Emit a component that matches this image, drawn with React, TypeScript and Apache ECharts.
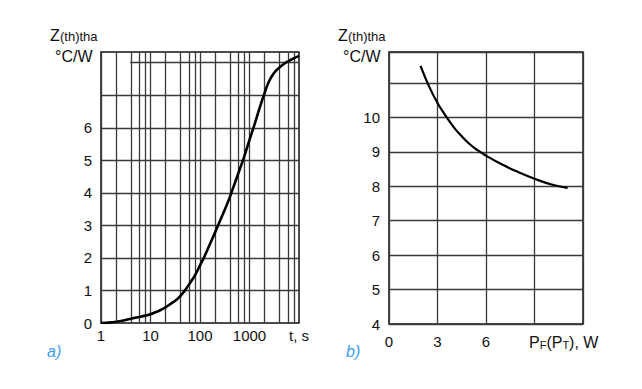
import React, { useEffect, useRef } from "react";
import * as echarts from "echarts";

// a) transient thermal impedance vs. time
const timeS = [
  1, 1.6, 2.5, 4, 6.3, 10, 12.6, 16, 20, 25, 32, 40, 50, 63, 80, 100, 126, 158, 200, 250, 316, 400,
  500, 630, 800, 1000, 1260, 1580, 2000, 2500, 3160, 4000, 5000, 6300, 8000, 10000,
];
const zthA = [
  0, 0.02, 0.06, 0.13, 0.195, 0.27, 0.33, 0.4, 0.48, 0.58, 0.69, 0.83, 1.01, 1.23, 1.48, 1.77, 2.08, 2.42,
  2.77, 3.12, 3.48, 3.87, 4.28, 4.71, 5.16, 5.63, 6.1, 6.58, 7.05, 7.44, 7.69, 7.85, 7.97, 8.06, 8.14, 8.21,
];

// b) thermal impedance vs. dissipated power
const powerW = [1.95, 2.5, 3.0, 3.5, 4.0, 4.5, 5.0, 5.5, 6.0, 7.0, 8.0, 9.0, 10.0, 11.05];
const zthB = [11.5, 10.88, 10.42, 10.05, 9.72, 9.45, 9.22, 9.04, 8.89, 8.63, 8.41, 8.22, 8.06, 7.95];

// log grid of panel a)
const decades = [1, 10, 100, 1000];
const decadeSteps = [1, 2, 4, 6, 8];
const levelsA = [1, 2, 3, 4, 5, 6, 7];
const topLevelA = 8;
const topLevelStartA = 3.9;

const FONT = "'Liberation Sans', Arial, Helvetica, sans-serif";
const GRID_COLOR = "#3a3a3a";
const FRAME_COLOR = "#111";
const LABEL_COLOR = "#111";
const TAG_COLOR = "#3d9bef";

function buildOption(): echarts.EChartsOption {
  const verticals: any[] = [];
  decades.forEach((d) => decadeSteps.forEach((s) => verticals.push({ xAxis: d * s })));
  const horizontals: any[] = levelsA.map((v) => ({ yAxis: v }));
  horizontals.push([
    { coord: [topLevelStartA, topLevelA] },
    { coord: [10000, topLevelA] },
  ]);

  const unitTitle = (x: number) => [
    {
      type: "text",
      left: x,
      top: 27,
      style: { text: "Z", font: `16px ${FONT}`, fill: LABEL_COLOR },
    },
    {
      type: "text",
      left: x + 10,
      top: 30,
      style: { text: "(th)tha", font: `13px ${FONT}`, fill: LABEL_COLOR },
    },
    {
      type: "text",
      left: x + 5,
      top: 48,
      style: { text: "°C/W", font: `16px ${FONT}`, fill: LABEL_COLOR },
    },
  ];

  return {
    animation: false,
    backgroundColor: "#ffffff",
    grid: [
      { left: 101, top: 52, width: 198, height: 271, show: true, borderColor: FRAME_COLOR, borderWidth: 1.5, backgroundColor: "transparent" },
      { left: 389, top: 52, width: 194, height: 272, show: true, borderColor: FRAME_COLOR, borderWidth: 1.5, backgroundColor: "transparent" },
    ],
    xAxis: [
      {
        gridIndex: 0,
        type: "log",
        logBase: 10,
        min: 1,
        max: 10000,
        axisLine: { show: false },
        axisTick: { show: false },
        splitLine: { show: false },
        axisLabel: {
          margin: 5,
          color: LABEL_COLOR,
          fontFamily: FONT,
          fontSize: 15,
          showMinLabel: true,
          showMaxLabel: true,
          formatter: (v: number) => (v >= 10000 ? "t, s" : String(v)),
        },
      },
      {
        gridIndex: 1,
        type: "value",
        min: 0,
        max: 12,
        interval: 3,
        axisLine: { show: false },
        axisTick: { show: false },
        splitLine: { show: true, lineStyle: { color: GRID_COLOR, width: 1.3 } },
        axisLabel: {
          margin: 10,
          color: LABEL_COLOR,
          fontFamily: FONT,
          fontSize: 15,
          formatter: (v: number) => (v <= 6 ? String(v) : ""),
        },
      },
    ],
    yAxis: [
      {
        gridIndex: 0,
        type: "value",
        min: 0,
        max: 8.33,
        interval: 1,
        axisLine: { show: false },
        axisTick: { show: false },
        splitLine: { show: false },
        axisLabel: {
          margin: 9,
          color: LABEL_COLOR,
          fontFamily: FONT,
          fontSize: 15,
          showMaxLabel: false,
          formatter: (v: number) => (v <= 6 ? String(v) : ""),
        },
      },
      {
        gridIndex: 1,
        type: "value",
        min: 4,
        max: 11.9,
        interval: 1,
        axisLine: { show: false },
        axisTick: { show: false },
        splitLine: { show: true, lineStyle: { color: GRID_COLOR, width: 1.3 } },
        axisLabel: {
          margin: 9,
          color: LABEL_COLOR,
          fontFamily: FONT,
          fontSize: 15,
          showMaxLabel: false,
          formatter: (v: number) => (v <= 10 ? String(v) : ""),
        },
      },
    ],
    series: [
      {
        type: "line",
        xAxisIndex: 0,
        yAxisIndex: 0,
        data: [],
        silent: true,
        markLine: {
          silent: true,
          symbol: "none",
          label: { show: false },
          lineStyle: { color: GRID_COLOR, width: 1.3, type: "solid" },
          data: [...verticals, ...horizontals],
        },
      },
      {
        type: "line",
        xAxisIndex: 0,
        yAxisIndex: 0,
        data: timeS.map((t, i) => [t, zthA[i]]),
        smooth: 0.5,
        showSymbol: false,
        lineStyle: { color: "#000", width: 2.6 },
        z: 5,
      },
      {
        type: "line",
        xAxisIndex: 1,
        yAxisIndex: 1,
        data: powerW.map((p, i) => [p, zthB[i]]),
        smooth: 0.5,
        showSymbol: false,
        lineStyle: { color: "#000", width: 2.2 },
        z: 5,
      },
    ],
    graphic: [
      ...unitTitle(50),
      ...unitTitle(338),
      {
        type: "text",
        left: 529,
        top: 334,
        style: {
          text: "{m|P}{s|F}{m|(P}{s|T}{m|), W}",
          rich: {
            m: { font: `16px ${FONT}`, fill: LABEL_COLOR, verticalAlign: "bottom", lineHeight: 16 },
            s: { font: `11px ${FONT}`, fill: LABEL_COLOR, verticalAlign: "bottom", lineHeight: 16 },
          },
        } as any,
      },
      {
        type: "text",
        left: 47,
        top: 343,
        style: { text: "a)", font: `italic 16px ${FONT}`, fill: TAG_COLOR },
      },
      {
        type: "text",
        left: 346,
        top: 343,
        style: { text: "b)", font: `italic 16px ${FONT}`, fill: TAG_COLOR },
      },
    ] as any,
  };
}

export default function App() {
  const ref = useRef<HTMLDivElement>(null);

  useEffect(() => {
    if (!ref.current) return;
    const chart = echarts.init(ref.current, undefined, { renderer: "svg" });
    chart.setOption(buildOption());
    return () => chart.dispose();
  }, []);

  return (
    <div
      ref={ref}
      style={{ position: "fixed", left: 0, top: 0, width: 642, height: 389, background: "#fff" }}
    />
  );
}
